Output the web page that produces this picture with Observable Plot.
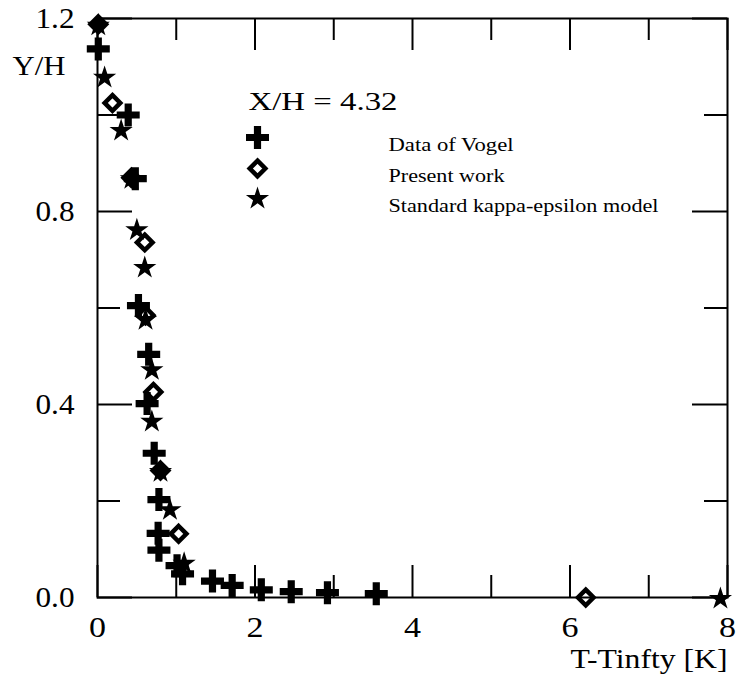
<!DOCTYPE html>
<html>
<head>
<meta charset="utf-8">
<script src="https://cdn.jsdelivr.net/npm/d3@7"></script>
<script src="https://cdn.jsdelivr.net/npm/@observablehq/plot@0.6"></script>
<style>
  html, body { margin: 0; padding: 0; background: #fff; }
  svg { display: block; }
  svg text { font-family: "Liberation Serif", "Times New Roman", serif !important; }
</style>
</head>
<body>
<div id="chart"></div>
<script>
// ---- data ----
const vogelX = [0.01, 0.39, 0.48, 0.52, 0.65, 0.63, 0.72, 0.78, 0.77, 0.78, 1.01, 1.08, 1.46, 1.71, 2.08, 2.46, 2.92, 3.54];
const vogelY = [1.137, 1.000, 0.868, 0.605, 0.504, 0.402, 0.299, 0.203, 0.133, 0.098, 0.066, 0.049, 0.034, 0.025, 0.016, 0.012, 0.010, 0.008];

const presentX = [0.01, 0.19, 0.43, 0.60, 0.61, 0.71, 0.80, 1.03, 6.20];
const presentY = [1.188, 1.025, 0.870, 0.736, 0.585, 0.426, 0.263, 0.132, 0.000];

const keX = [0.01, 0.09, 0.30, 0.43, 0.50, 0.60, 0.61, 0.69, 0.69, 0.80, 0.92, 1.10, 7.91];
const keY = [1.188, 1.080, 0.970, 0.870, 0.764, 0.686, 0.578, 0.474, 0.367, 0.263, 0.184, 0.073, 0.000];

const xMajor = [0, 2, 4, 6, 8];
const xMinor = [1, 3, 5, 7];
const yMajor = [0, 0.4, 0.8, 1.2];
const yMinor = [0.2, 0.6, 1.0];
const xTickLabels = ["0", "2", "4", "6", "8"];
const yTickLabels = ["0.0", "0.4", "0.8", "1.2"];
const legendLabels = ["Data of Vogel", "Present work", "Standard kappa-epsilon model"];
const annotation = "X/H = 4.32";
const xLabel = "T-Tinfty [K]";
const yLabel = "Y/H";

// ---- tables built from the arrays ----
const vogel = vogelX.map((x, i) => ({x, y: vogelY[i]}));
const present = presentX.map((x, i) => ({x, y: presentY[i]}));
const ke = keX.map((x, i) => ({x, y: keY[i]}));

// ---- symbols ----
const plusSym = {draw(c) {
  const a = 11.5, t = 3.6;
  c.moveTo(-a, -t); c.lineTo(-t, -t); c.lineTo(-t, -a); c.lineTo(t, -a); c.lineTo(t, -t);
  c.lineTo(a, -t); c.lineTo(a, t); c.lineTo(t, t); c.lineTo(t, a); c.lineTo(-t, a);
  c.lineTo(-t, t); c.lineTo(-a, t); c.closePath();
}};
const diamondSym = {draw(c) {
  const r = 7.8;
  c.moveTo(0, -r); c.lineTo(r, 0); c.lineTo(0, r); c.lineTo(-r, 0); c.closePath();
}};
const starSym = {draw(c) {
  const R = 12.2, r = R * 0.382;
  for (let i = 0; i < 10; i++) {
    const ang = -Math.PI / 2 + i * Math.PI / 5;
    const rr = i % 2 ? r : R;
    const px = rr * Math.cos(ang), py = rr * Math.sin(ang) + 1.2;
    if (i) c.lineTo(px, py); else c.moveTo(px, py);
  }
  c.closePath();
}};

const W = 737, H = 691, mL = 97, mR = 10, mT = 18, mB = 94;
const fw = W - mL - mR, fh = H - mT - mB;
const font = "Liberation Serif";

const legendY0 = 137 - mT, legendStep = 30;
const T = (opts) => ({fill: "black", fontFamily: font, ...opts});

const plot = Plot.plot({
  width: W, height: H,
  marginLeft: mL, marginRight: mR, marginTop: mT, marginBottom: mB,
  style: {fontFamily: font, background: "white", color: "black", overflow: "visible"},
  x: {domain: [0, 8], axis: null},
  y: {domain: [0, 1.2], axis: null},
  marks: [
    Plot.frame({stroke: "black", strokeWidth: 2}),
    // x ticks (bottom + top), inward
    Plot.ruleX(xMajor, {x: d => d, insetTop: fh - 32, stroke: "black", strokeWidth: 2}),
    Plot.ruleX(xMajor, {x: d => d, insetBottom: fh - 32, stroke: "black", strokeWidth: 2}),
    Plot.ruleX(xMinor, {x: d => d, insetTop: fh - 22, stroke: "black", strokeWidth: 2}),
    Plot.ruleX(xMinor, {x: d => d, insetBottom: fh - 22, stroke: "black", strokeWidth: 2}),
    // y ticks (left + right), inward
    Plot.ruleY(yMajor, {y: d => d, insetRight: fw - 35, stroke: "black", strokeWidth: 2}),
    Plot.ruleY(yMajor, {y: d => d, insetLeft: fw - 35, stroke: "black", strokeWidth: 2}),
    Plot.ruleY(yMinor, {y: d => d, insetRight: fw - 23, stroke: "black", strokeWidth: 2}),
    Plot.ruleY(yMinor, {y: d => d, insetLeft: fw - 23, stroke: "black", strokeWidth: 2}),
    // tick labels
    Plot.text(xMajor, T({x: d => d, frameAnchor: "bottom", dy: 39, text: (d, i) => xTickLabels[i], fontSize: 29})),
    Plot.text(yMajor, T({y: d => d, frameAnchor: "left", dx: -23, textAnchor: "end", text: (d, i) => yTickLabels[i], fontSize: 29})),
    // axis labels
    Plot.text([yLabel], T({frameAnchor: "top-left", dx: -85, dy: 37, textAnchor: "start", text: d => d, fontSize: 28})),
    Plot.text([xLabel], T({frameAnchor: "bottom-right", dy: 70, textAnchor: "end", text: d => d, fontSize: 28})),
    // annotation
    Plot.text([annotation], T({frameAnchor: "top-left", dx: 151, dy: 74, textAnchor: "start", text: d => d, fontSize: 25})),
    // legend
    Plot.dot([0], {frameAnchor: "top-left", dx: 160, dy: legendY0, symbol: plusSym, fill: "black", stroke: "none"}),
    Plot.dot([0], {frameAnchor: "top-left", dx: 160, dy: legendY0 + legendStep + 1, symbol: diamondSym, fill: "none", stroke: "black", strokeWidth: 4.5}),
    Plot.dot([0], {frameAnchor: "top-left", dx: 160, dy: legendY0 + 2 * legendStep, symbol: starSym, fill: "black", stroke: "none"}),
    ...legendLabels.map((lab, i) =>
      Plot.text([lab], T({frameAnchor: "top-left", dx: 291, dy: legendY0 + i * legendStep + (i ? 1 : 0), textAnchor: "start", text: d => d, fontSize: 19}))
    ),
    // data
    Plot.dot(vogel, {x: "x", y: "y", symbol: plusSym, fill: "black", stroke: "none"}),
    Plot.dot(present, {x: "x", y: "y", symbol: diamondSym, fill: "none", stroke: "black", strokeWidth: 4.5}),
    Plot.dot(ke, {x: "x", y: "y", symbol: starSym, fill: "black", stroke: "none"})
  ]
});

document.getElementById("chart").appendChild(plot);

// stretch texts horizontally to the reference widths
const targets = new Map([
  [annotation, 149], [legendLabels[0], 125], [legendLabels[1], 116],
  [legendLabels[2], 270], [xLabel, 157], [yLabel, 53]
]);
yTickLabels.forEach(s => targets.set(s, 39));
xTickLabels.forEach(s => targets.set(s, 17));
plot.querySelectorAll("text").forEach(t => {
  const w = targets.get(t.textContent);
  if (w) { t.setAttribute("textLength", w); t.setAttribute("lengthAdjust", "spacingAndGlyphs"); }
});
</script>
</body>
</html>
